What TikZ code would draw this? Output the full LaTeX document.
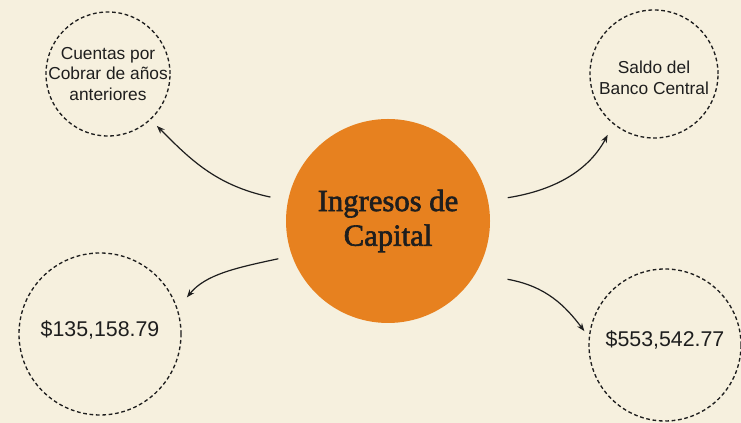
\documentclass[tikz,border=0pt]{standalone}
\usepackage{fontspec}
\setmainfont{Liberation Serif}
\newfontfamily\capfont[FakeBold=2]{Liberation Serif}
\newfontfamily\arialfont{Liberation Sans}
\usetikzlibrary{arrows.meta}
\definecolor{paper}{RGB}{246,240,222}
\definecolor{caporange}{RGB}{231,129,31}
\definecolor{ink}{RGB}{30,30,30}

\begin{document}
\begin{tikzpicture}[x=0.75pt,y=0.75pt,
  bubble/.style={circle, draw=ink, line width=1pt, dash pattern=on 2.8pt off 2pt, inner sep=0pt},
  btext/.style={font=\arialfont\fontsize{13}{15.5}\selectfont, text=ink, align=center},
  vtext/.style={font=\arialfont\fontsize{16}{19}\selectfont, text=ink},
  link/.style={line width=0.9pt, ink, -{Stealth[length=6pt,width=4.5pt]}}]
% Background
\fill[paper] (0,0) rectangle (741,423);
\useasboundingbox (0,0) rectangle (741,423);

% Central circle
\node[circle, fill=caporange, minimum size=153pt, align=center, text=ink,
      font=\capfont\fontsize{23}{26}\selectfont] (cap) at (388,202) {Ingresos de\\Capital};

% Outer circles
\node[bubble, minimum size=93pt,
      label={[btext]center:{Cuentas por\\Cobrar de años\\anteriores}}] (cuentas) at (108,349) {};
\node[bubble, minimum size=96pt,
      label={[btext, yshift=-3pt]center:{Saldo del\\Banco Central}}] (saldo) at (654,349) {};
\node[bubble, minimum size=121.5pt,
      label={[vtext, yshift=3pt]center:{\$135,158.79}}] (valor1) at (100,89) {};
\node[bubble, minimum size=114pt,
      label={[vtext, yshift=4pt]center:{\$553,542.77}}] (valor2) at (665,78) {};

% Arrow starts, a little off the central circle
\coordinate (s1) at ([shift={(168.5:120)}]cap.center);
\coordinate (s2) at ([shift={(11:122)}]cap.center);
\coordinate (s3) at ([shift={(199:116)}]cap.center);
\coordinate (s4) at ([shift={(-26:133)}]cap.center);

% Arrows
\draw[link, shorten >=6.5pt] (s1) to[out=168,in=-45] (cuentas.-47);
\draw[link, shorten >=9pt] (s2) to[out=9,in=-118] (saldo.-129);
\draw[link, shorten >=11pt] (s3) to[out=192,in=51] (valor1.18);
\draw[link, shorten >=5.5pt] (s4) to[out=-10,in=127] (valor2.174);
\end{tikzpicture}
\end{document}
